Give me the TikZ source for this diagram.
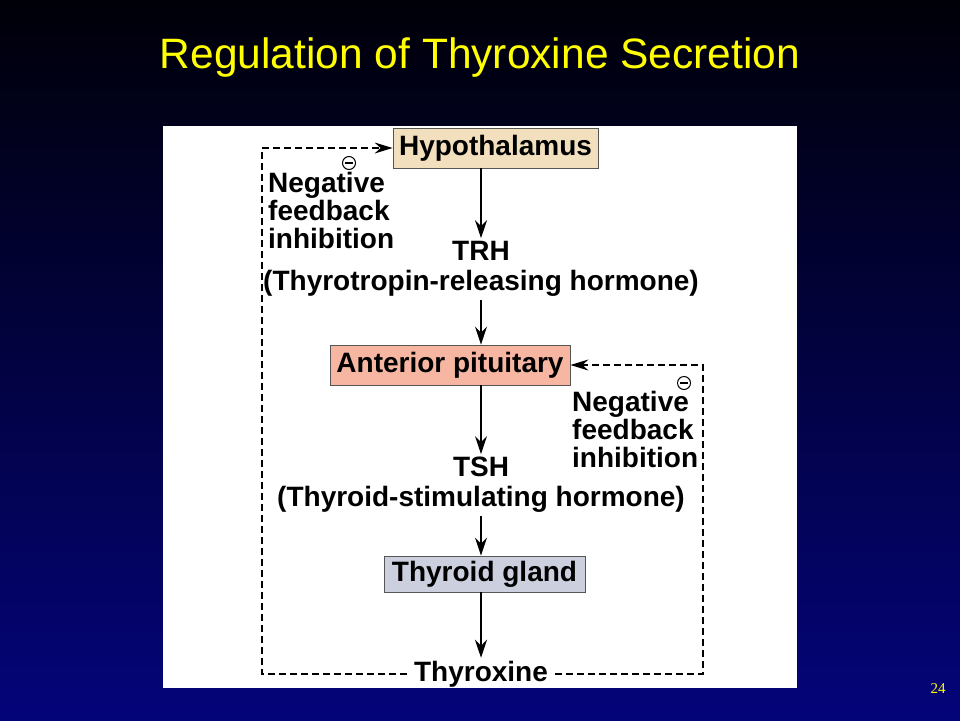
\documentclass[tikz,border=0pt]{standalone}
\usepackage{fontspec}
\setmainfont{Liberation Sans}
\newfontfamily\numfont{Liberation Serif}
\usetikzlibrary{arrows.meta}
\definecolor{bgtop}{RGB}{0,0,8}
\definecolor{bgbot}{RGB}{4,4,122}
\definecolor{ttl}{RGB}{255,255,0}
\definecolor{hypcol}{RGB}{242,223,190}
\definecolor{antcol}{RGB}{246,182,162}
\definecolor{thycol}{RGB}{204,208,222}
\definecolor{boxline}{RGB}{85,85,85}
\tikzset{
  box/.style={draw=boxline, line width=0.8pt, inner sep=3pt, minimum height=40pt,
    font=\bfseries\fontsize{28}{30}\selectfont},
  txt/.style={align=center, inner sep=3pt, font=\bfseries\fontsize{28}{30}\selectfont},
  lbl/.style={align=left, inner sep=0pt, anchor=north west,
    font=\bfseries\fontsize{28}{28}\selectfont},
  arr/.style={line width=1.6pt, -{Stealth[length=18pt,width=12pt,inset=6pt]}},
  fb/.style={line width=1.4pt, dash pattern=on 7pt off 4pt,
    -{Stealth[length=18pt,width=11pt,inset=6pt]}},
  minus/.style={circle, draw, line width=1pt, inner sep=0pt, minimum size=13pt}
}
\begin{document}
\begin{tikzpicture}[x=1pt,y=-1pt]
% slide
\shade[top color=bgtop, bottom color=bgbot] (0,0) rectangle (960,720);
\fill[white] (163,126) rectangle (797,688);
\node[text=ttl, font=\fontsize{42.5}{42.5}\selectfont] (title) at (480,58) {Regulation of Thyroxine Secretion};
\node[text=ttl, font=\numfont\fontsize{15}{15}\selectfont] (page) at (938,689) {24};
% chain
\node[box, fill=hypcol, minimum width=205pt] (hyp) at (495.5,148) {Hypothalamus};
\node[txt] (trh) at (481,269) {TRH\\(Thyrotropin-releasing hormone)};
\node[box, fill=antcol, minimum width=240pt] (ant) at (450,365) {Anterior pituitary};
\node[txt] (tsh) at (481,485) {TSH\\(Thyroid-stimulating hormone)};
\node[box, fill=thycol, minimum width=201pt, minimum height=36pt] (thy) at (484.5,574) {Thyroid gland};
\node[txt, inner xsep=7pt] (thx) at (481,674) {Thyroxine};
\draw[arr] (hyp.south -| trh) -- (trh);
\draw[arr] (trh) -- (trh |- ant.north);
\draw[arr] (ant.south -| tsh) -- (tsh);
\draw[arr] (tsh) -- (tsh |- thy.north);
\draw[arr] (thy.south -| thx) -- (thx);
% feedback
\coordinate (lft) at (262,0);
\coordinate (rgt) at (703,0);
\draw[fb] (thx.west) -- (thx.west -| lft) |- (hyp.west);
\draw[fb] (thx.east) -- (thx.east -| rgt) |- (ant.east);
\node[lbl] (nfb1) at (268,172) {Negative\\feedback\\inhibition};
\node[lbl] (nfb2) at (572,391) {Negative\\feedback\\inhibition};
\node[minus] (m1) at (349,163) {\rule{8pt}{1.8pt}};
\node[minus] (m2) at (684,383) {\rule{8pt}{1.8pt}};
\end{tikzpicture}
\end{document}
